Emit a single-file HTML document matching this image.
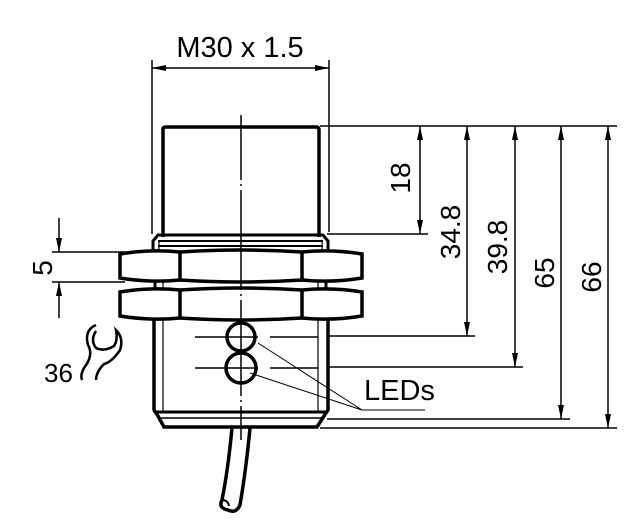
<!DOCTYPE html>
<html><head><style>body{margin:0;background:#fff}svg{display:block}text{font-family:"Liberation Sans",sans-serif;fill:#000}</style></head><body>
<svg width="638" height="531" viewBox="0 0 638 531" xmlns="http://www.w3.org/2000/svg">
<defs><marker id="a" markerWidth="14" markerHeight="8" refX="14" refY="4" orient="auto" markerUnits="userSpaceOnUse"><path d="M0,1 L14,4 L0,7z" fill="#000"/></marker></defs>
<g stroke="#000" fill="none">
<line x1="152" y1="60" x2="152" y2="234" stroke-width="1.5"/>
<line x1="329" y1="60" x2="329" y2="232" stroke-width="1.5"/>
<line x1="170" y1="68" x2="152" y2="68" stroke-width="1.5" marker-end="url(#a)"/>
<line x1="170" y1="68" x2="329" y2="68" stroke-width="1.5" marker-end="url(#a)"/>
<path d="M163,237 V129 Q163,127 166,127 H316 Q319,127 319,130 V237" stroke-width="3.5"/>
<path d="M153,252 V241 L158,235 H323 L328,241 V252" stroke-width="3"/>
<line x1="158" y1="241" x2="323" y2="241" stroke-width="2"/>
<line x1="158" y1="246" x2="323" y2="246" stroke-width="2"/>
<line x1="159" y1="241" x2="159" y2="252" stroke-width="1.2"/>
<line x1="322" y1="241" x2="322" y2="252" stroke-width="1.2"/>
<g stroke-width="3.5">
<path d="M120,254 Q150,249 180,252 Q241,248 302,252 Q332,249 362,254 V278 Q332,283 302,280 Q241,284 180,280 Q150,283 120,278 Z"/>
<line x1="180" y1="252" x2="180" y2="280"/><line x1="302" y1="252" x2="302" y2="280"/>
<path d="M120,292 Q150,287 180,290 Q241,286 302,290 Q332,287 362,292 V316 Q332,321 302,318 Q241,322 180,318 Q150,321 120,316 Z"/>
<line x1="180" y1="290" x2="180" y2="318"/><line x1="302" y1="290" x2="302" y2="318"/>
</g>
<line x1="155" y1="280" x2="155" y2="290" stroke-width="3"/><line x1="326" y1="280" x2="326" y2="290" stroke-width="3"/>
<line x1="163" y1="280" x2="163" y2="290" stroke-width="1.2"/><line x1="318" y1="280" x2="318" y2="290" stroke-width="1.2"/>
<path d="M154,318 V410 L158,416 L164,427 H317 L324,416 L328,410 V318" stroke-width="3.5"/>
<line x1="163" y1="318" x2="163" y2="412" stroke-width="1.2"/>
<line x1="318" y1="318" x2="318" y2="412" stroke-width="1.2"/>
<line x1="156" y1="412" x2="326" y2="412" stroke-width="3"/>
<line x1="158" y1="418" x2="324" y2="418" stroke-width="1.5"/>
<circle cx="241" cy="337" r="14" stroke-width="3.5"/>
<circle cx="241" cy="368" r="15" stroke-width="3.5"/>
<line x1="195" y1="337" x2="258" y2="337" stroke-width="1.5"/><line x1="270" y1="337" x2="318" y2="337" stroke-width="1.5"/>
<line x1="195" y1="368" x2="258" y2="368" stroke-width="1.5"/><line x1="270" y1="368" x2="318" y2="368" stroke-width="1.5"/>
<line x1="258" y1="343" x2="362" y2="410" stroke-width="1"/>
<line x1="250" y1="373" x2="362" y2="410" stroke-width="1"/>
<line x1="362" y1="410" x2="425" y2="410" stroke-width="1"/>
<path d="M241,115 V180 M241,184 V186 M241,190 V290 M241,294 V296 M241,300 V396 M241,400 V402 M241,406 V440" stroke-width="1.5"/>
<path d="M232,428 Q228,470 222,500 Q218,508 228,510 Q236,514 240,505 Q246,470 250,428" stroke-width="3.5"/>
<path d="M222,500 Q228,500 229,506" stroke-width="2"/>
<line x1="52" y1="252" x2="125" y2="252" stroke-width="1.5"/>
<line x1="52" y1="282" x2="125" y2="282" stroke-width="1.5"/>
<line x1="59" y1="218" x2="59" y2="252" stroke-width="1.5" marker-end="url(#a)"/>
<line x1="59" y1="318" x2="59" y2="282" stroke-width="1.5" marker-end="url(#a)"/>
<path d="M96,325 Q84,330 88,345 Q94,355 84,368 Q80,375 82,380 M96,331 Q90,340 96,348 Q104,352 114,346 Q118,340 116,330 Q124,338 120,350 Q112,362 104,364 Q96,372 96,380" stroke-width="2.5"/>
<line x1="320" y1="126" x2="617" y2="126" stroke-width="1.5"/>
<line x1="327" y1="234" x2="428" y2="234" stroke-width="1.5"/>
<line x1="328" y1="336" x2="475" y2="336" stroke-width="1.5"/>
<line x1="328" y1="367" x2="523" y2="367" stroke-width="1.5"/>
<line x1="327" y1="419" x2="570" y2="419" stroke-width="1.5"/>
<line x1="320" y1="428" x2="617" y2="428" stroke-width="1.5"/>
<g stroke-width="1.5">
<line x1="420" y1="180" x2="420" y2="126" marker-end="url(#a)"/><line x1="420" y1="180" x2="420" y2="234" marker-end="url(#a)"/>
<line x1="467" y1="230" x2="467" y2="126" marker-end="url(#a)"/><line x1="467" y1="230" x2="467" y2="336" marker-end="url(#a)"/>
<line x1="515" y1="250" x2="515" y2="126" marker-end="url(#a)"/><line x1="515" y1="250" x2="515" y2="367" marker-end="url(#a)"/>
<line x1="561" y1="270" x2="561" y2="126" marker-end="url(#a)"/><line x1="561" y1="270" x2="561" y2="419" marker-end="url(#a)"/>
<line x1="608" y1="270" x2="608" y2="126" marker-end="url(#a)"/><line x1="608" y1="270" x2="608" y2="428" marker-end="url(#a)"/>
</g>
</g>
<text x="240" y="57" font-size="29" text-anchor="middle">M30 x 1.5</text>
<text x="364" y="400" font-size="29">LEDs</text>
<text x="44" y="382" font-size="26">36</text>
<text transform="translate(52,268) rotate(-90)" font-size="28" text-anchor="middle">5</text>
<text transform="translate(410,178) rotate(-90)" font-size="28" text-anchor="middle">18</text>
<text transform="translate(460,232) rotate(-90)" font-size="28" text-anchor="middle">34.8</text>
<text transform="translate(507,247) rotate(-90)" font-size="28" text-anchor="middle">39.8</text>
<text transform="translate(554,273) rotate(-90)" font-size="28" text-anchor="middle">65</text>
<text transform="translate(601,277) rotate(-90)" font-size="28" text-anchor="middle">66</text>
</svg>
</body></html>
